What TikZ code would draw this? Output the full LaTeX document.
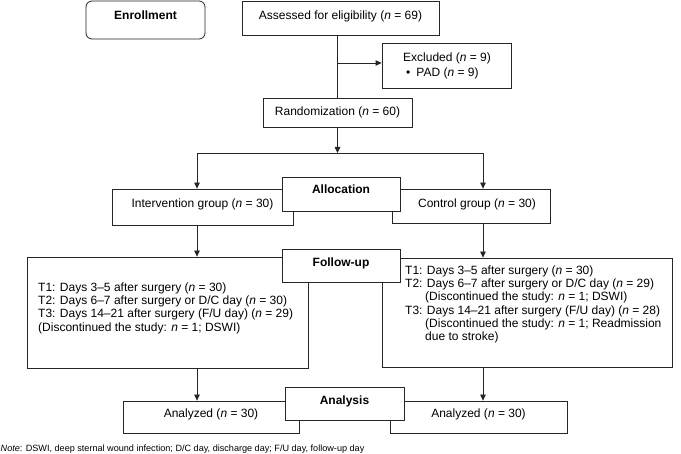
\documentclass[tikz,border=0pt]{standalone}
\usepackage{fontspec}
\setmainfont{Liberation Sans}
\usetikzlibrary{arrows.meta}
\tikzset{
  lc/.style={draw=black!85, line width=0.8pt},
  box/.style={lc, fill=white, inner sep=0pt, text height=8.6pt, font=\fontsize{12}{14}\selectfont},
  hbox/.style={box, font=\fontsize{12}{14}\selectfont\bfseries},
  arr/.style={lc, -{Triangle[length=6pt,width=5.5pt]}},
  body/.style={align=left, inner sep=0pt, anchor=base west, font=\fontsize{12}{13.3}\selectfont},
}
\begin{document}
\begin{tikzpicture}[x=1pt,y=-1pt]
\useasboundingbox (0,0) rectangle (681,454);
% top part
\node[hbox, rounded corners=6pt, minimum width=119pt, minimum height=38pt, text depth=10pt] (enroll) at (145.5,20) {Enrollment};
\node[box, minimum width=197pt, minimum height=34pt, text depth=6pt] (assess) at (340.5,18) {Assessed for eligibility (\textit{n} = 69)};
\node[box, minimum width=129pt, minimum height=45pt] (excl) at (446.5,65.5) {};
\node[body, font=\fontsize{12}{15}\selectfont] (exclT) at (403,76.3) {Excluded (\textit{n} = 9)\\\hspace*{3pt}\textbullet\hspace*{6pt}PAD (\textit{n} = 9)};
\node[box, minimum width=149pt, minimum height=29pt] (rand) at (337.5,112.5) {Randomization (\textit{n} = 60)};
% allocation
\node[box, minimum width=181pt, minimum height=36pt, text depth=8pt] (int) at (202.5,207) {Intervention group (\textit{n} = 30)};
\node[box, minimum width=158pt, minimum height=34pt, text depth=6pt] (ctl) at (471,206) {\hspace*{12pt}Control group (\textit{n} = 30)};
\node[hbox, minimum width=118pt, minimum height=34pt, text depth=10pt] (alloc) at (341,194) {Allocation};
% follow-up
\node[box, minimum width=281pt, minimum height=111pt] (fuL) at (167.5,312.5) {};
\node[box, minimum width=290pt, minimum height=109pt] (fuR) at (527,312.5) {};
\node[hbox, minimum width=118pt, minimum height=33pt, text depth=6pt] (fuLbl) at (341,265.5) {Follow-up};
\node[body] (fuLT) at (38,331.2) {T1: Days 3–5 after surgery (\textit{n} = 30)\\
T2: Days 6–7 after surgery or D/C day (\textit{n} = 30)\\
T3: Days 14–21 after surgery (F/U day) (\textit{n} = 29)\\
(Discontinued the study: \textit{n} = 1; DSWI)};
\node[body] (fuRT) at (405,340.8) {T1: Days 3–5 after surgery (\textit{n} = 30)\\
T2: Days 6–7 after surgery or D/C day (\textit{n} = 29)\\
\hspace*{20pt}(Discontinued the study: \textit{n} = 1; DSWI)\\
T3: Days 14–21 after surgery (F/U day) (\textit{n} = 28)\\
\hspace*{20pt}(Discontinued the study: \textit{n} = 1; Readmission\\
\hspace*{20pt}due to stroke)};
% analysis
\node[box, minimum width=176pt, minimum height=32pt, text depth=7.4pt] (anaL) at (211,417) {Analyzed (\textit{n} = 30)};
\node[box, minimum width=177pt, minimum height=32pt, text depth=7.4pt] (anaR) at (478.5,417) {Analyzed (\textit{n} = 30)};
\node[hbox, minimum width=119pt, minimum height=33pt, text depth=7pt] (anaLbl) at (344.5,403.5) {Analysis};
% note
\node[inner sep=0pt, anchor=base west, font=\fontsize{9.1}{10}\selectfont] (note) at (0.5,451.5) {\textit{Note}: DSWI, deep sternal wound infection; D/C day, discharge day; F/U day, follow-up day};
% connectors
\coordinate (exTap) at (338,63);
\coordinate (sL) at (197,153);
\coordinate (sR) at (483,153);
\draw[lc] (rand.north) -- (rand.north |- assess.south);
\draw[arr] (exTap) -- (exTap -| excl.west);
\draw[arr] (rand.south) -- (rand.south |- sL);
\draw[lc] (sL) -- (sR);
\draw[arr] (sL) -- (sL |- int.north);
\draw[arr] (sR) -- (sR |- ctl.north);
\draw[arr] (sL |- int.south) -- (sL |- fuL.north);
\draw[arr] (sR |- ctl.south) -- (sR |- fuR.north);
\draw[arr] (sL |- fuL.south) -- (sL |- anaL.north);
\draw[arr] (sR |- fuR.south) -- (sR |- anaR.north);
\end{tikzpicture}
\end{document}
